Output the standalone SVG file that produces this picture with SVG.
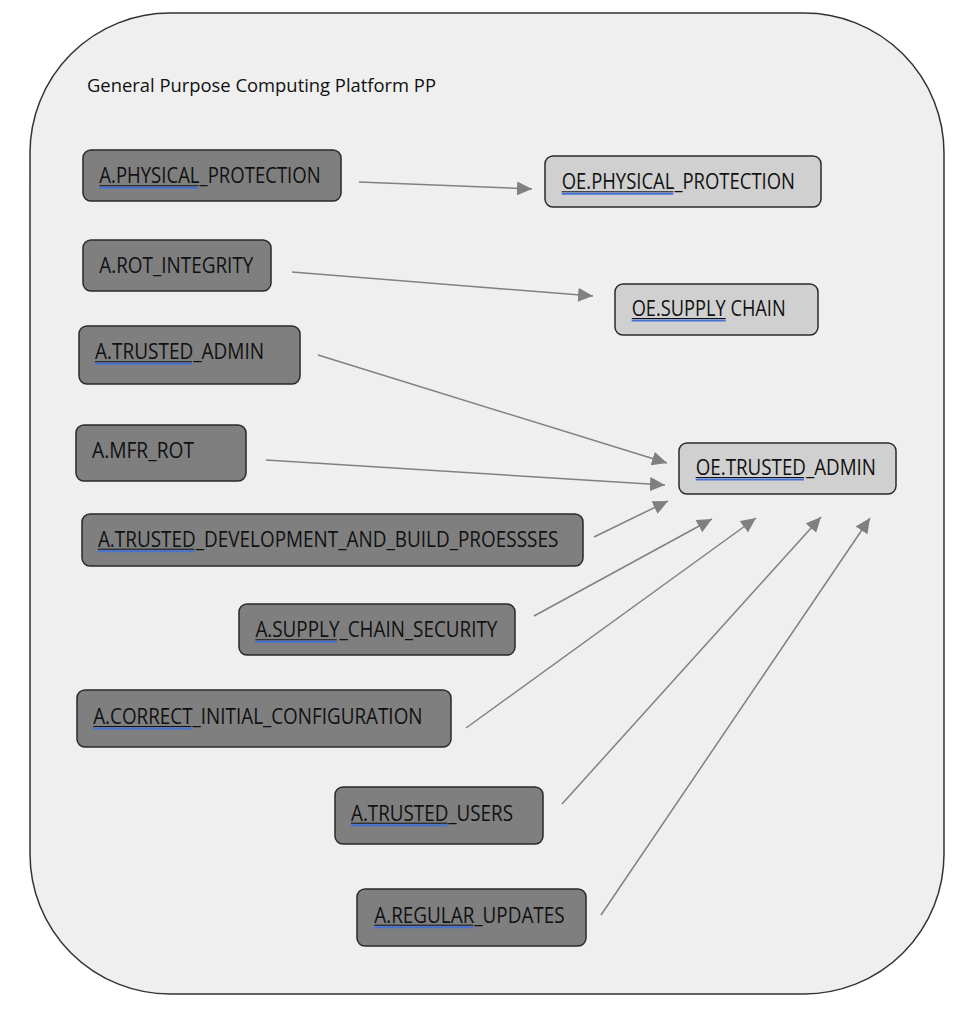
<svg xmlns="http://www.w3.org/2000/svg" width="976" height="1009" viewBox="0 0 976 1009">
<defs>
<style>
.bg{fill:#ffffff}
.frame{fill:#efefef;stroke:#333333;stroke-width:1.5}
.a{fill:#7f7f7f;stroke:#2a2a2a;stroke-width:1.5}
.oe{fill:#d0d0d0;stroke:#2a2a2a;stroke-width:1.5}
.t{font-family:"Open Sans","Noto Sans","Liberation Sans",sans-serif;font-size:21px;fill:#111111}
.title{font-family:"Open Sans","Noto Sans","Liberation Sans",sans-serif;font-size:17.5px;fill:#111111}
.ul{stroke:#111111;stroke-width:1}
.bl{stroke:#4472d4;stroke-width:2}
.c{stroke:#808080;stroke-width:1.5;fill:none;marker-end:url(#ah)}
</style>
<marker id="ah" markerUnits="userSpaceOnUse" markerWidth="16" markerHeight="14" refX="15" refY="7" orient="auto">
<path d="M0,0 L15,7 L0,14 Z" fill="#808080"/>
</marker>
</defs>
<rect class="bg" x="0" y="0" width="976" height="1009"/>
<g id="platform">
<rect class="frame" x="30" y="13" width="914" height="981" rx="140" ry="140"/>
<text class="title" x="87" y="91.5" textLength="349" lengthAdjust="spacingAndGlyphs">General Purpose Computing Platform PP</text>
</g>
<g id="connectors">
<line class="c" x1="359" y1="182" x2="532" y2="189"/>
<line class="c" x1="292" y1="272" x2="593" y2="296"/>
<line class="c" x1="318" y1="355" x2="667" y2="463"/>
<line class="c" x1="266" y1="460" x2="665" y2="485"/>
<line class="c" x1="594" y1="537" x2="668" y2="501"/>
<line class="c" x1="534" y1="616" x2="712" y2="519"/>
<line class="c" x1="466" y1="728" x2="756" y2="518"/>
<line class="c" x1="562" y1="804" x2="821" y2="517"/>
<line class="c" x1="601" y1="915" x2="870" y2="518"/>
</g>
<g id="a-physical-protection">
<rect class="a" x="83" y="150" width="258" height="51" rx="8"/>
<text class="t" x="99.3" y="183.3" textLength="221.4" lengthAdjust="spacingAndGlyphs">A.PHYSICAL_PROTECTION</text>
<line class="ul" x1="99.3" y1="185.8" x2="198.3" y2="185.8"/><line class="bl" x1="99.3" y1="187.8" x2="198.3" y2="187.8"/>
</g>
<g id="oe-physical-protection">
<rect class="oe" x="545" y="156" width="276" height="51" rx="8"/>
<text class="t" x="561.7" y="189.3" textLength="233.3" lengthAdjust="spacingAndGlyphs">OE.PHYSICAL_PROTECTION</text>
<line class="ul" x1="561.7" y1="191.8" x2="673.3" y2="191.8"/><line class="bl" x1="561.7" y1="193.8" x2="673.3" y2="193.8"/>
</g>
<g id="a-rot-integrity">
<rect class="a" x="83" y="240" width="188" height="51" rx="8"/>
<text class="t" x="99.3" y="272.7" textLength="154" lengthAdjust="spacingAndGlyphs">A.ROT_INTEGRITY</text>
</g>
<g id="oe-supply-chain">
<rect class="oe" x="615" y="284" width="203" height="51" rx="8"/>
<text class="t" x="631.7" y="316" textLength="154" lengthAdjust="spacingAndGlyphs">OE.SUPPLY CHAIN</text>
<line class="ul" x1="631.7" y1="318.5" x2="725.7" y2="318.5"/><line class="bl" x1="631.7" y1="320.5" x2="725.7" y2="320.5"/>
</g>
<g id="a-trusted-admin">
<rect class="a" x="79" y="326" width="221" height="58" rx="8"/>
<text class="t" x="95" y="359.3" textLength="169" lengthAdjust="spacingAndGlyphs">A.TRUSTED_ADMIN</text>
<line class="ul" x1="95" y1="361.8" x2="192" y2="361.8"/><line class="bl" x1="95" y1="363.8" x2="192" y2="363.8"/>
</g>
<g id="a-mfr-rot">
<rect class="a" x="76" y="425" width="170" height="56" rx="8"/>
<text class="t" x="92" y="457.7" textLength="102" lengthAdjust="spacingAndGlyphs">A.MFR_ROT</text>
</g>
<g id="oe-trusted-admin">
<rect class="oe" x="679" y="443" width="217" height="51" rx="8"/>
<text class="t" x="695.7" y="475" textLength="180.3" lengthAdjust="spacingAndGlyphs">OE.TRUSTED_ADMIN</text>
<line class="ul" x1="695.7" y1="477.5" x2="804" y2="477.5"/><line class="bl" x1="695.7" y1="479.5" x2="804" y2="479.5"/>
</g>
<g id="a-trusted-development">
<rect class="a" x="82" y="514" width="501" height="52" rx="8"/>
<text class="t" x="97.9" y="546.7" textLength="460.4" lengthAdjust="spacingAndGlyphs">A.TRUSTED_DEVELOPMENT_AND_BUILD_PROESSSES</text>
<line class="ul" x1="97.9" y1="549.2" x2="194.3" y2="549.2"/><line class="bl" x1="97.9" y1="551.2" x2="194.3" y2="551.2"/>
</g>
<g id="a-supply-chain-security">
<rect class="a" x="239" y="604" width="276" height="51" rx="8"/>
<text class="t" x="255.4" y="637.3" textLength="242" lengthAdjust="spacingAndGlyphs">A.SUPPLY_CHAIN_SECURITY</text>
<line class="ul" x1="255.4" y1="639.8" x2="336.8" y2="639.8"/><line class="bl" x1="255.4" y1="641.8" x2="336.8" y2="641.8"/>
</g>
<g id="a-correct-initial-configuration">
<rect class="a" x="77" y="690" width="374" height="57" rx="8"/>
<text class="t" x="93.2" y="724" textLength="329.3" lengthAdjust="spacingAndGlyphs">A.CORRECT_INITIAL_CONFIGURATION</text>
<line class="ul" x1="93.2" y1="726.5" x2="191.4" y2="726.5"/><line class="bl" x1="93.2" y1="728.5" x2="191.4" y2="728.5"/>
</g>
<g id="a-trusted-users">
<rect class="a" x="335" y="787" width="208" height="57" rx="8"/>
<text class="t" x="351" y="820.7" textLength="162" lengthAdjust="spacingAndGlyphs">A.TRUSTED_USERS</text>
<line class="ul" x1="351" y1="823.2" x2="447.5" y2="823.2"/><line class="bl" x1="351" y1="825.2" x2="447.5" y2="825.2"/>
</g>
<g id="a-regular-updates">
<rect class="a" x="357" y="889" width="229" height="57" rx="8"/>
<text class="t" x="374.3" y="922.7" textLength="190.3" lengthAdjust="spacingAndGlyphs">A.REGULAR_UPDATES</text>
<line class="ul" x1="374.3" y1="925.2" x2="473.2" y2="925.2"/><line class="bl" x1="374.3" y1="927.2" x2="473.2" y2="927.2"/>
</g>
</svg>
